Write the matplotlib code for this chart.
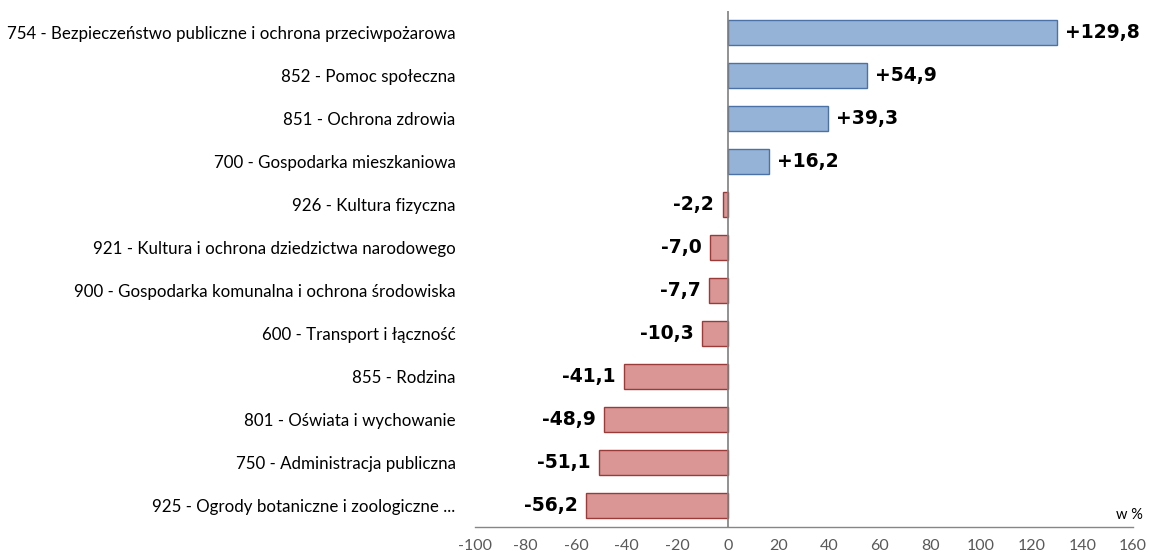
import matplotlib
matplotlib.use("Agg")
import matplotlib.pyplot as plt
import numpy as np

# Budget sections (top to bottom) and change in %
categories = [
    "754 - Bezpieczeństwo publiczne i ochrona przeciwpożarowa",
    "852 - Pomoc społeczna",
    "851 - Ochrona zdrowia",
    "700 - Gospodarka mieszkaniowa",
    "926 - Kultura fizyczna",
    "921 - Kultura i ochrona dziedzictwa narodowego",
    "900 - Gospodarka komunalna i ochrona środowiska",
    "600 - Transport i łączność",
    "855 - Rodzina",
    "801 - Oświata i wychowanie",
    "750 - Administracja publiczna",
    "925 - Ogrody botaniczne i zoologiczne ...",
]
values = [129.8, 54.9, 39.3, 16.2, -2.2, -7.0, -7.7, -10.3, -41.1, -48.9, -51.1, -56.2]
x_ticks = [-100, -80, -60, -40, -20, 0, 20, 40, 60, 80, 100, 120, 140, 160]
unit_label = "w %"

POS_FILL, POS_EDGE = "#95B3D7", "#4A71A8"
NEG_FILL, NEG_EDGE = "#D99694", "#9B3B39"
AXIS_GRAY = "#868686"
TEXT_GRAY = "#595959"
LABEL_FONT = ["Lato", "DejaVu Sans"]

W, H = 1149, 555
fig = plt.figure(figsize=(W / 100, H / 100), dpi=100)
ax = fig.add_axes([475 / W, 1 - 527 / H, (1133 - 475) / W, (527 - 11) / H])

n = len(categories)
y = np.arange(n)
fills = [POS_FILL if v >= 0 else NEG_FILL for v in values]
edges = [POS_EDGE if v >= 0 else NEG_EDGE for v in values]
ax.barh(y, values, height=0.6, color=fills, edgecolor=edges, linewidth=1.0, zorder=2)

# value labels beside each bar
for yi, v in zip(y, values):
    txt = f"{v:+.1f}".replace(".", ",")
    off, ha = (6, "left") if v >= 0 else (-6, "right")
    ax.annotate(txt, (v, yi), xytext=(off, 0), textcoords="offset points",
                ha=ha, va="center", fontsize=13.5, fontweight="bold",
                family="DejaVu Sans", color="black")

ax.set_xlim(x_ticks[0], x_ticks[-1])
ax.set_ylim(n - 0.5, -0.5)

ax.axvline(0, color="#7F7F7F", linewidth=1.2, zorder=3)

ax.set_yticks(y)
ax.set_yticklabels(categories, fontsize=12.2, family=LABEL_FONT, color="black")
ax.tick_params(axis="y", length=0, pad=14)

ax.set_xticks(x_ticks)
ax.set_xticklabels([str(t) for t in x_ticks], fontsize=11.5, family=LABEL_FONT, color=TEXT_GRAY)
ax.tick_params(axis="x", length=0, pad=9)

for side in ("top", "right", "left"):
    ax.spines[side].set_visible(False)
ax.spines["bottom"].set_color(AXIS_GRAY)
ax.spines["bottom"].set_linewidth(1.0)

fig.text(1143 / W, 1 - 515 / H, unit_label, ha="right", va="center",
         fontsize=10.5, family=LABEL_FONT, color="black")

fig.savefig("out.png", dpi=100)
